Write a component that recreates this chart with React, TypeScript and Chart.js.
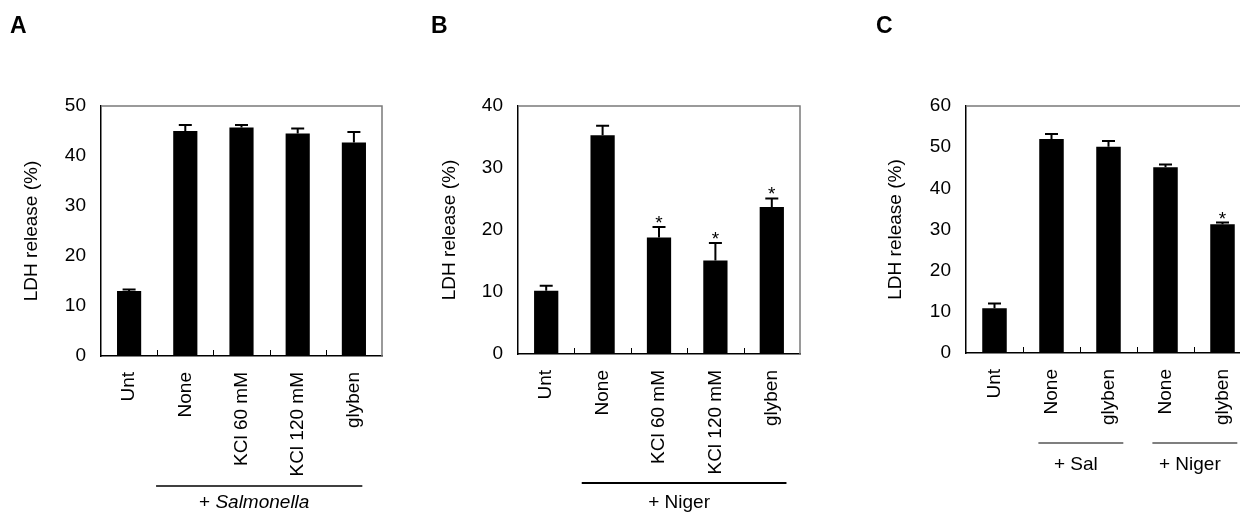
import React, { useEffect, useRef } from 'react';
import { Chart, registerables } from 'chart.js';
Chart.register(...registerables);

// ---------- DATA ----------
const categoriesA = ['Unt', 'None', 'KCl 60 mM', 'KCl 120 mM', 'glyben'];
const meansA = [13.0, 45.0, 45.7, 44.5, 42.7];
const errorsA = [0.3, 1.2, 0.5, 1.0, 2.1];
const starsA = [false, false, false, false, false];
const yMaxA = 50;
const groupLabelsA = ['+ Salmonella'];
const groupRangesA = [[1, 4]];

const categoriesB = ['Unt', 'None', 'KCl 60 mM', 'KCl 120 mM', 'glyben'];
const meansB = [10.2, 35.3, 18.8, 15.1, 23.7];
const errorsB = [0.8, 1.5, 1.7, 2.8, 1.4];
const starsB = [false, false, true, true, true];
const yMaxB = 40;
const groupLabelsB = ['+ Niger'];
const groupRangesB = [[1, 4]];

const categoriesC = ['Unt', 'None', 'glyben', 'None', 'glyben'];
const meansC = [10.9, 52.0, 50.1, 45.1, 31.3];
const errorsC = [1.1, 1.2, 1.4, 0.7, 0.4];
const starsC = [false, false, false, false, true];
const yMaxC = 60;
const groupLabelsC = ['+ Sal', '+ Niger'];
const groupRangesC = [[1, 2], [3, 4]];

const yStep = 10;
const yTitle = 'LDH release (%)';
const italicWord = 'Salmonella';
const panelLetters = ['A', 'B', 'C'];

// ---------- STYLE ----------
const FONT = "'Liberation Sans', Arial, Helvetica, sans-serif";
const FS = 19;
const H = 518;
const X_H = 140;

type PanelProps = {
  letter: string;
  letterX: number;
  left: number;
  width: number;
  yWidth: number;
  top: number;
  bottom: number;
  right: number;
  cats: string[];
  means: number[];
  errs: number[];
  stars: boolean[];
  yMax: number;
  groupLabels: string[];
  groupRanges: number[][];
  groupLineY: number;
  groupLabelY: number;
  groupLineW: number;
  startOff: number;
  endOff: number;
};

function Panel(p: PanelProps) {
  const ref = useRef<HTMLCanvasElement | null>(null);
  useEffect(() => {
    const canvas = ref.current;
    if (!canvas) return;
    const deco = {
      id: 'deco',
      afterDraw(chart: any) {
        const { ctx, chartArea, scales } = chart;
        const { left, right, top, bottom } = chartArea;
        const x = scales.x;
        const y = scales.y;
        ctx.save();
        // gray top/right frame
        ctx.strokeStyle = '#7a7a7a';
        ctx.lineWidth = 1.5;
        ctx.beginPath();
        ctx.moveTo(left, top);
        ctx.lineTo(right, top);
        ctx.lineTo(right, bottom);
        ctx.stroke();
        // inner tick marks between categories
        ctx.strokeStyle = '#000';
        ctx.lineWidth = 1;
        for (let i = 1; i < p.cats.length; i++) {
          const xb = Math.round((x.getPixelForValue(i - 1) + x.getPixelForValue(i)) / 2) + 0.5;
          ctx.beginPath();
          ctx.moveTo(xb, bottom);
          ctx.lineTo(xb, bottom - 6);
          ctx.stroke();
        }
        // error bars + stars
        ctx.lineWidth = 2;
        for (let i = 0; i < p.means.length; i++) {
          const xc = x.getPixelForValue(i);
          const yb = y.getPixelForValue(p.means[i]);
          const yt = y.getPixelForValue(p.means[i] + p.errs[i]);
          ctx.beginPath();
          ctx.moveTo(xc, yb);
          ctx.lineTo(xc, yt);
          ctx.moveTo(xc - 6.5, yt);
          ctx.lineTo(xc + 6.5, yt);
          ctx.stroke();
          if (p.stars[i]) {
            ctx.fillStyle = '#000';
            ctx.font = `${FS}px ${FONT}`;
            ctx.textAlign = 'center';
            ctx.textBaseline = 'alphabetic';
            ctx.fillText('*', xc, yt + 2);
          }
        }
        // group lines + labels
        const cw = x.getPixelForValue(1) - x.getPixelForValue(0);
        p.groupRanges.forEach((r, gi) => {
          const xs = x.getPixelForValue(r[0]) + p.startOff * cw;
          const xe = x.getPixelForValue(r[1]) + p.endOff * cw;
          ctx.strokeStyle = '#000';
          ctx.lineWidth = p.groupLineW;
          ctx.beginPath();
          ctx.moveTo(xs, p.groupLineY);
          ctx.lineTo(xe, p.groupLineY);
          ctx.stroke();
          const label = p.groupLabels[gi];
          const parts: { t: string; it: boolean }[] = [];
          const k = label.indexOf(italicWord);
          if (k >= 0) {
            parts.push({ t: label.slice(0, k), it: false });
            parts.push({ t: italicWord, it: true });
            parts.push({ t: label.slice(k + italicWord.length), it: false });
          } else parts.push({ t: label, it: false });
          let total = 0;
          parts.forEach(pt => {
            ctx.font = `${pt.it ? 'italic ' : ''}${FS}px ${FONT}`;
            total += ctx.measureText(pt.t).width;
          });
          let cx = (xs + xe) / 2 - 5 - total / 2;
          ctx.fillStyle = '#000';
          ctx.textAlign = 'left';
          ctx.textBaseline = 'middle';
          parts.forEach(pt => {
            ctx.font = `${pt.it ? 'italic ' : ''}${FS}px ${FONT}`;
            ctx.fillText(pt.t, cx, p.groupLabelY);
            cx += ctx.measureText(pt.t).width;
          });
        });
        // panel letter
        ctx.fillStyle = '#000';
        ctx.font = `bold 23px ${FONT}`;
        ctx.textAlign = 'left';
        ctx.textBaseline = 'alphabetic';
        ctx.fillText(p.letter, p.letterX - p.left, 33);
        ctx.restore();
      },
    };
    const font = { family: FONT, size: FS };
    const chart = new Chart(canvas, {
      type: 'bar',
      data: {
        labels: p.cats,
        datasets: [
          {
            data: p.means,
            backgroundColor: '#000',
            borderWidth: 0,
            barPercentage: 0.43,
            categoryPercentage: 1,
          },
        ],
      },
      options: {
        animation: false,
        responsive: false,
        devicePixelRatio: 1,
        layout: {
          padding: {
            left: 0,
            top: p.top,
            right: p.width - (p.right - p.left),
            bottom: H - p.bottom - X_H,
          },
        },
        plugins: {
          legend: { display: false },
          tooltip: { enabled: false },
        },
        scales: {
          x: {
            type: 'category',
            grid: { display: false, drawTicks: false },
            border: { display: true, color: '#000', width: 1.5 },
            ticks: {
              minRotation: 90,
              maxRotation: 90,
              autoSkip: false,
              padding: 16,
              color: '#000',
              font,
            },
            afterFit: (s: any) => {
              s.height = X_H;
            },
          },
          y: {
            min: 0,
            max: p.yMax,
            grid: { display: false, drawTicks: false },
            border: { display: true, color: '#000', width: 1.5 },
            ticks: { stepSize: yStep, padding: 15, color: '#000', font },
            title: {
              display: true,
              text: yTitle,
              color: '#000',
              font,
              padding: { top: 20, bottom: 0 },
            },
            afterFit: (s: any) => {
              s.width = p.yWidth;
            },
          },
        },
      },
      plugins: [deco],
    } as any);
    return () => chart.destroy();
  }, []);
  return (
    <canvas
      ref={ref}
      width={p.width}
      height={H}
      style={{ position: 'absolute', left: p.left, top: 0, width: p.width, height: H }}
    />
  );
}

export default function App() {
  return (
    <div
      style={{
        position: 'fixed',
        left: 0,
        top: 0,
        width: 1240,
        height: H,
        overflow: 'hidden',
        background: '#fff',
      }}
    >
      <Panel
        letter={panelLetters[0]}
        letterX={10}
        left={0}
        width={400}
        yWidth={101}
        top={106}
        bottom={356}
        right={382}
        cats={categoriesA}
        means={meansA}
        errs={errorsA}
        stars={starsA}
        yMax={yMaxA}
        groupLabels={groupLabelsA}
        groupRanges={groupRangesA}
        groupLineY={486}
        groupLabelY={503}
        groupLineW={1.3}
        startOff={-0.52}
        endOff={0.15}
      />
      <Panel
        letter={panelLetters[1]}
        letterX={431}
        left={418}
        width={400}
        yWidth={100}
        top={106}
        bottom={354}
        right={800}
        cats={categoriesB}
        means={meansB}
        errs={errorsB}
        stars={starsB}
        yMax={yMaxB}
        groupLabels={groupLabelsB}
        groupRanges={groupRangesB}
        groupLineY={483}
        groupLabelY={503}
        groupLineW={2}
        startOff={-0.37}
        endOff={0.26}
      />
      <Panel
        letter={panelLetters[2]}
        letterX={876}
        left={864}
        width={410}
        yWidth={102}
        top={106}
        bottom={353}
        right={1251}
        cats={categoriesC}
        means={meansC}
        errs={errorsC}
        stars={starsC}
        yMax={yMaxC}
        groupLabels={groupLabelsC}
        groupRanges={groupRangesC}
        groupLineY={443}
        groupLabelY={465}
        groupLineW={1.2}
        startOff={-0.23}
        endOff={0.26}
      />
    </div>
  );
}
